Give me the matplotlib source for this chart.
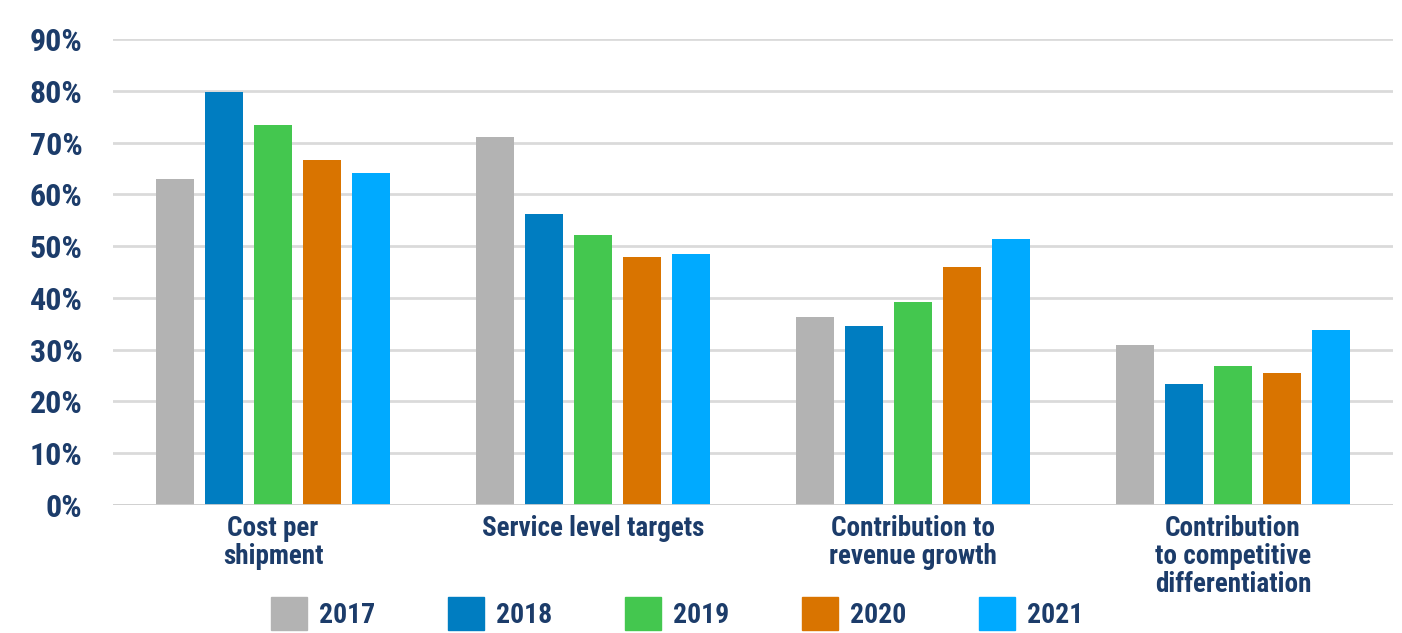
import numpy as np
import matplotlib.pyplot as plt
from matplotlib.patches import Patch

categories = ["Cost per\nshipment", "Service level targets",
              "Contribution to\nrevenue growth",
              "Contribution\nto competitive\ndifferentiation"]
years = ["2017", "2018", "2019", "2020", "2021"]
values = {
    "2017": [63, 71, 36.3, 30.9],
    "2018": [79.7, 56.2, 34.6, 23.3],
    "2019": [73.4, 52.1, 39.2, 26.8],
    "2020": [66.7, 47.9, 46.0, 25.5],
    "2021": [64.1, 48.5, 51.3, 33.8],
}
colors = ["#b3b3b3", "#007dc1", "#44c74f", "#d97400", "#00aaff"]
yticks = [0, 10, 20, 30, 40, 50, 60, 70, 80, 90]

navy = "#1c3c6a"
plt.rcParams['font.family'] = ['Roboto Condensed', 'Liberation Sans Narrow', 'Roboto', 'DejaVu Sans']
plt.rcParams['font.weight'] = 'bold'

fig = plt.figure(figsize=(14.02, 6.33), dpi=100)
ax = fig.add_axes([0.0806, 0.2022, 0.913, 0.7362])

x = np.arange(len(categories))
pitch = 0.153
width = 0.119
for i, y in enumerate(years):
    ax.bar(x + (i - 2) * pitch, values[y], width, color=colors[i], zorder=3)

ax.set_xlim(-0.5, 3.5)
ax.set_ylim(0, 90)
ax.set_yticks(yticks)
ax.set_yticklabels([f"{v}%" for v in yticks], color=navy, fontsize=23, fontweight='bold')
ax.set_xticks(x)
ax.set_xticklabels(categories, color=navy, fontsize=19.5, fontweight='bold', linespacing=1.05)
ax.tick_params(length=0, axis='y', pad=22)
ax.tick_params(length=0, axis='x', pad=7)
for s in ax.spines.values():
    s.set_visible(False)
ax.grid(axis='y', color='#dadada', linewidth=2, zorder=0)
ax.axhline(0, color='#d0d0d0', linewidth=2, zorder=4)

handles = [Patch(color=c) for c in colors]
leg = fig.legend(handles, years, loc='lower center', bbox_to_anchor=(0.483, -0.035), ncol=5,
                 frameon=False, fontsize=20, handlelength=1.3, handleheight=1.45,
                 handletextpad=0.43, columnspacing=2.62)
for t in leg.get_texts():
    t.set_color(navy)
    t.set_fontweight('bold')

fig.savefig("out.png", dpi=100)
